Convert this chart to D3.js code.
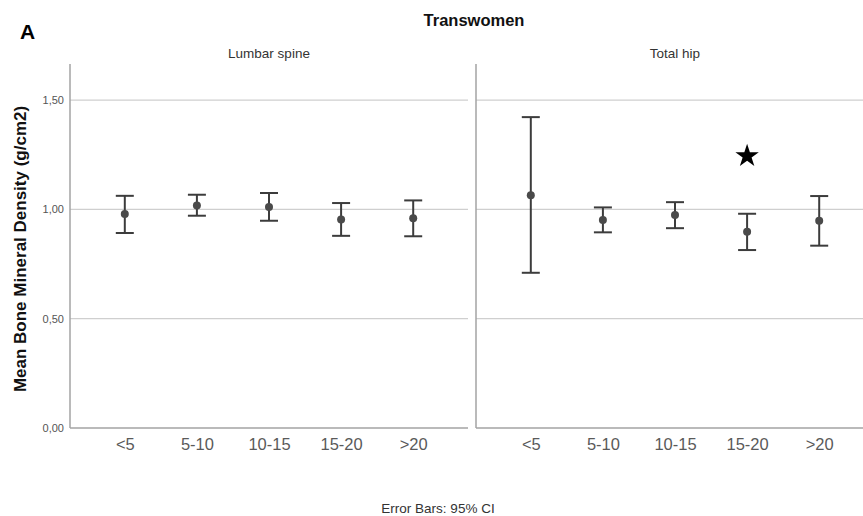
<!DOCTYPE html>
<html>
<head>
<meta charset="utf-8">
<script src="https://cdn.jsdelivr.net/npm/d3@7"></script>
<style>
  body { margin: 0; background: #fff; }
  svg { display: block; font-family: "Liberation Sans", Arial, sans-serif; }
</style>
</head>
<body>
<div id="chart"></div>
<script>
// values
var categories = ["<5", "5-10", "10-15", "15-20", ">20"];
var panelNames = ["Lumbar spine", "Total hip"];

var spineMean = [0.979, 1.018, 1.011, 0.954, 0.959];
var spineLow  = [0.892, 0.971, 0.948, 0.879, 0.877];
var spineHigh = [1.062, 1.067, 1.075, 1.029, 1.041];

var hipMean = [1.065, 0.951, 0.974, 0.898, 0.948];
var hipLow  = [0.710, 0.895, 0.914, 0.814, 0.834];
var hipHigh = [1.422, 1.009, 1.033, 0.980, 1.061];

var yTicks = [0, 0.5, 1.0, 1.5];
var starMarks = [{panel: "Total hip", cat: "15-20", value: 1.244}];

var width = 863, height = 516;
var svg = d3.select("#chart").append("svg")
  .attr("width", width)
  .attr("height", height);

var y = d3.scaleLinear().domain([0, 1.665]).range([428, 64]);
var fmt = d3.formatLocale({decimal: ",", thousands: ".", grouping: [3], currency: ["", ""]}).format(".2f");

var panels = [
  {name: panelNames[0], x0: 70, x1: 468, mean: spineMean, low: spineLow, high: spineHigh},
  {name: panelNames[1], x0: 476, x1: 874, mean: hipMean, low: hipLow, high: hipHigh}
];

panels.forEach(function(p, pi){
  var x = d3.scalePoint().domain(categories).range([p.x0, p.x1]).padding(0.76);
  var g = svg.append("g");

  // gridlines
  g.selectAll(".grid").data(yTicks.filter(function(d){ return d > 0; }))
    .enter().append("line")
      .attr("x1", p.x0).attr("x2", p.x1)
      .attr("y1", function(d){ return y(d); })
      .attr("y2", function(d){ return y(d); })
      .attr("stroke", "#cfcfcf")
      .attr("stroke-width", 1.2);

  // axis frame (left + bottom)
  g.append("line")
    .attr("x1", p.x0).attr("x2", p.x0)
    .attr("y1", y(1.665)).attr("y2", y(0))
    .attr("stroke", "#a3a3a3").attr("stroke-width", 1.5);
  g.append("line")
    .attr("x1", p.x0).attr("x2", p.x1)
    .attr("y1", y(0)).attr("y2", y(0))
    .attr("stroke", "#a3a3a3").attr("stroke-width", 1.5);

  // x tick labels
  var xAxis = g.append("g")
    .attr("transform", "translate(0," + y(0) + ")")
    .call(d3.axisBottom(x).tickSize(0).tickPadding(10));
  xAxis.select(".domain").remove();
  xAxis.selectAll("text")
    .attr("font-family", "Liberation Sans, Arial, sans-serif")
    .attr("font-size", 16.5)
    .attr("fill", "#5a5a5a");

  // y tick labels only on the first panel
  if (pi === 0) {
    var yAxis = g.append("g")
      .attr("transform", "translate(" + (p.x0 - 5) + ",0)")
      .call(d3.axisLeft(y).tickValues(yTicks).tickFormat(fmt).tickSize(0).tickPadding(1));
    yAxis.select(".domain").remove();
    yAxis.selectAll("text")
      .attr("font-family", "Liberation Sans, Arial, sans-serif")
      .attr("font-size", 11)
      .attr("fill", "#555");
  }

  // panel title
  g.append("text")
    .attr("x", (p.x0 + p.x1) / 2)
    .attr("y", 58)
    .attr("text-anchor", "middle")
    .attr("font-size", 13.5)
    .attr("fill", "#333")
    .text(p.name);

  // error bars
  var capW = 9;
  var bars = g.selectAll(".bar").data(categories).enter().append("g");
  bars.append("line")
    .attr("x1", function(d){ return x(d); })
    .attr("x2", function(d){ return x(d); })
    .attr("y1", function(d, i){ return y(p.low[i]); })
    .attr("y2", function(d, i){ return y(p.high[i]); })
    .attr("stroke", "#3c3c3c").attr("stroke-width", 2);
  bars.append("line")
    .attr("x1", function(d){ return x(d) - capW; })
    .attr("x2", function(d){ return x(d) + capW; })
    .attr("y1", function(d, i){ return y(p.high[i]); })
    .attr("y2", function(d, i){ return y(p.high[i]); })
    .attr("stroke", "#3c3c3c").attr("stroke-width", 2);
  bars.append("line")
    .attr("x1", function(d){ return x(d) - capW; })
    .attr("x2", function(d){ return x(d) + capW; })
    .attr("y1", function(d, i){ return y(p.low[i]); })
    .attr("y2", function(d, i){ return y(p.low[i]); })
    .attr("stroke", "#3c3c3c").attr("stroke-width", 2);
  bars.append("circle")
    .attr("cx", function(d){ return x(d); })
    .attr("cy", function(d, i){ return y(p.mean[i]); })
    .attr("r", 4)
    .attr("fill", "#4a4a4a");

  // significance star
  starMarks.filter(function(s){ return s.panel === p.name; }).forEach(function(s){
    g.append("path")
      .attr("d", d3.symbol(d3.symbolStar).size(170)())
      .attr("transform", "translate(" + x(s.cat) + "," + y(s.value) + ")")
      .attr("fill", "#000");
  });
});

// panel letter and overall title
svg.append("text")
  .attr("x", 20).attr("y", 39)
  .attr("font-size", 21).attr("font-weight", "bold")
  .attr("fill", "#000")
  .text("A");
svg.append("text")
  .attr("x", 474).attr("y", 26)
  .attr("text-anchor", "middle")
  .attr("font-size", 16.5).attr("font-weight", "bold")
  .attr("fill", "#111")
  .text("Transwomen");

// y axis title
svg.append("text")
  .attr("transform", "translate(26,249) rotate(-90)")
  .attr("text-anchor", "middle")
  .attr("font-size", 17).attr("font-weight", "bold")
  .attr("fill", "#111")
  .text("Mean Bone Mineral Density (g/cm2)");

// footnote
svg.append("text")
  .attr("x", 438).attr("y", 513)
  .attr("text-anchor", "middle")
  .attr("font-size", 13.5)
  .attr("fill", "#333")
  .text("Error Bars: 95% CI");
</script>
</body>
</html>
